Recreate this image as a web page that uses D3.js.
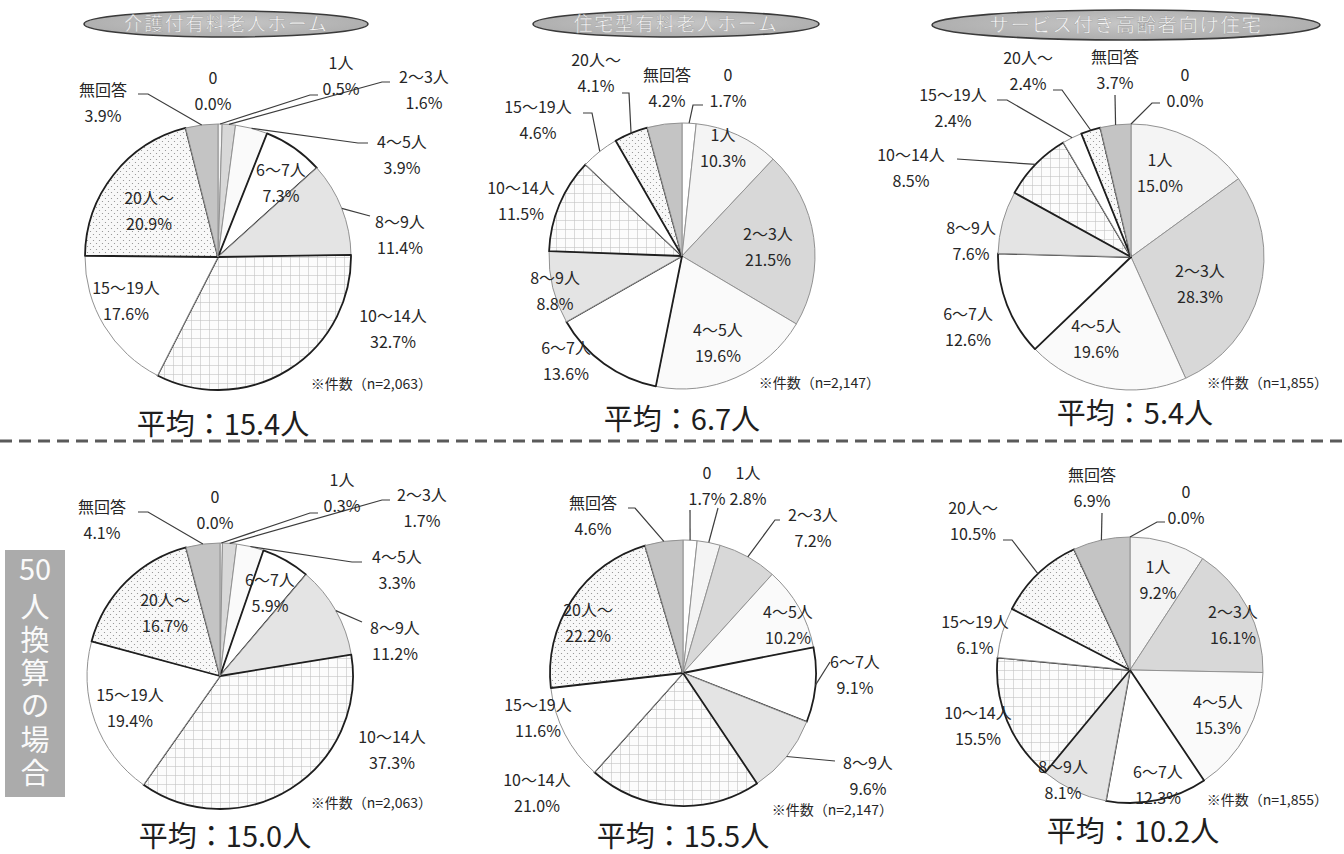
<!DOCTYPE html>
<html>
<head>
<meta charset="utf-8">
<script src="https://cdn.jsdelivr.net/npm/d3@7/dist/d3.min.js"></script>
<style>
  html, body { margin: 0; padding: 0; background: #fff; }
  svg { display: block; }
  text { font-family: "Noto Sans CJK JP", "Noto Sans", sans-serif; }
</style>
</head>
<body>
<svg id="chart" width="1344" height="854"></svg>
<script>
// ---- data ----
const categories = ['0', '1人', '2～3人', '4～5人', '6～7人', '8～9人', '10～14人', '15～19人', '20人～', '無回答'];
const facilityTypes = ['介護付有料老人ホーム', '住宅型有料老人ホーム', 'サービス付き高齢者向け住宅'];
const sampleSizes = ['2,063', '2,147', '1,855'];

// share of facilities (%) by number of staff
const sharesKaigo   = [0.0, 0.5, 1.6, 3.9, 7.3, 11.4, 32.7, 17.6, 20.9, 3.9];
const sharesJutaku  = [1.7, 10.3, 21.5, 19.6, 13.6, 8.8, 11.5, 4.6, 4.1, 4.2];
const sharesSakoju  = [0.0, 15.0, 28.3, 19.6, 12.6, 7.6, 8.5, 2.4, 2.4, 3.7];
// same, converted to a 50-resident basis
const sharesKaigo50  = [0.0, 0.3, 1.7, 3.3, 5.9, 11.2, 37.3, 19.4, 16.7, 4.1];
const sharesJutaku50 = [1.7, 2.8, 7.2, 10.2, 9.1, 9.6, 21.0, 11.6, 22.2, 4.6];
const sharesSakoju50 = [0.0, 9.2, 16.1, 15.3, 12.3, 8.1, 15.5, 6.1, 10.5, 6.9];

const averagesRaw = ['15.4', '6.7', '5.4'];
const averages50  = ['15.0', '15.5', '10.2'];

// ---- layout ----
const R = 133;
const panels = [
  { values: sharesKaigo,    cx: 218, cy: 257, n: 0, avg: averagesRaw[0], avgPos: [223, 425], nPos: [432, 384] },
  { values: sharesJutaku,   cx: 682, cy: 256, n: 1, avg: averagesRaw[1], avgPos: [682, 420], nPos: [880, 383] },
  { values: sharesSakoju,   cx: 1131, cy: 257, n: 2, avg: averagesRaw[2], avgPos: [1135, 414], nPos: [1328, 383] },
  { values: sharesKaigo50,  cx: 220, cy: 676, n: 0, avg: averages50[0], avgPos: [225, 837], nPos: [432, 803] },
  { values: sharesJutaku50, cx: 683, cy: 673, n: 1, avg: averages50[1], avgPos: [683, 837], nPos: [893, 810] },
  { values: sharesSakoju50, cx: 1130, cy: 670, n: 2, avg: averages50[2], avgPos: [1133, 832], nPos: [1328, 800] }
];

// label anchor (centre of first line) relative to pie centre, and leader-line bends
const labelLayouts = [
  { pos: [[-5,-179],[123,-194],[206,-180],[184,-115],[63,-87],[182,-35],[175,59],[-92,31],[-69,-59],[-115,-167]],
    lead: { 1: [[100,-162],[92,-162]], 2: [[172,-175],[164,-175]], 3: [[150,-114],[140,-114]], 5: [[152,-41]], 9: [[-80,-163],[-70,-163]] } },
  { pos: [[46,-181],[41,-121],[86,-22],[36,74],[-116,92],[-127,22],[-161,-68],[-144,-149],[-86,-196],[-15,-181]],
    lead: { 0: [[21,-151],[11,-151]], 7: [[-99,-143],[-90,-143]], 8: [[-60,-163],[-53,-163]] } },
  { pos: [[54,-182],[29,-97],[69,14],[-35,69],[-163,57],[-160,-29],[-220,-102],[-178,-162],[-103,-199],[-16,-200]],
    lead: { 0: [[29,-154],[21,-154]], 6: [[-174,-98]], 7: [[-134,-157],[-124,-157]], 8: [[-78,-167],[-69,-167]], 9: [[-16,-162]] } },
  { pos: [[-5,-179],[122,-196],[202,-181],[177,-119],[50,-96],[175,-48],[172,61],[-90,19],[-55,-76],[-118,-169]],
    lead: { 1: [[98,-163],[90,-163]], 2: [[170,-176],[162,-176]], 3: [[142,-114],[132,-114]], 5: [[142,-54]], 9: [[-82,-164],[-72,-164]] } },
  { pos: [[24,-200],[65,-200],[130,-158],[105,-61],[172,-11],[185,90],[-146,107],[-145,32],[-95,-63],[-90,-170]],
    lead: { 0: [[7,-163]], 1: [[35,-165]], 2: [[97,-153],[92,-153]], 4: [[147,-11]], 5: [[152,88]], 9: [[-55,-165],[-48,-165]] } },
  { pos: [[56,-178],[28,-103],[103,-58],[88,32],[28,102],[-67,97],[-152,43],[-155,-48],[-157,-162],[-38,-195]],
    lead: { 0: [[35,-148],[27,-148]], 8: [[-127,-130],[-118,-130]], 9: [[-28,-157]] } }
];

const svg = d3.select('#chart');
const defs = svg.append('defs');

// grid hatch for 10～14人
const grid = defs.append('pattern').attr('id', 'gridFill')
  .attr('patternUnits', 'userSpaceOnUse').attr('width', 9).attr('height', 9);
grid.append('rect').attr('width', 9).attr('height', 9).attr('fill', '#fcfcfc');
grid.append('path').attr('d', 'M0,0.5H9M0.5,0V9').attr('stroke', '#c2c2c2').attr('stroke-width', 0.6);

// dot stipple for 20人～
const dots = defs.append('pattern').attr('id', 'dotFill')
  .attr('patternUnits', 'userSpaceOnUse').attr('width', 6).attr('height', 6);
dots.append('rect').attr('width', 6).attr('height', 6).attr('fill', '#f8f8f8');
dots.append('circle').attr('cx', 1.5).attr('cy', 1.5).attr('r', 0.6).attr('fill', '#8a8a8a');
dots.append('circle').attr('cx', 4.5).attr('cy', 4.5).attr('r', 0.6).attr('fill', '#8a8a8a');

// header bubble shading
const grad = defs.append('radialGradient').attr('id', 'bubble').attr('cx', '50%').attr('cy', '45%').attr('r', '60%');
grad.append('stop').attr('offset', '0%').attr('stop-color', '#c6c6c6');
grad.append('stop').attr('offset', '100%').attr('stop-color', '#ababab');

const sliceFill = d3.scaleOrdinal()
  .domain(categories)
  .range(['#ffffff', '#f4f4f4', '#d8d8d8', '#fafafa', '#ffffff', '#e4e4e4', 'url(#gridFill)', '#ffffff', 'url(#dotFill)', '#c4c4c4']);
const darkOutline = new Set(['6～7人', '10～14人', '20人～']);

const pie = d3.pie().sort(null).value(d => d.v);
const arc = d3.arc().innerRadius(0).outerRadius(R);
const fmt = d3.format('.1f');
const textColor = '#262626';

panels.forEach((p, i) => {
  const g = svg.append('g').attr('transform', `translate(${p.cx},${p.cy})`);
  const arcs = pie(categories.map((c, k) => ({ c, v: p.values[k] })));

  g.selectAll('path.slice').data(arcs).join('path')
    .attr('class', 'slice')
    .attr('d', arc)
    .attr('fill', d => sliceFill(d.data.c))
    .attr('stroke', d => darkOutline.has(d.data.c) ? '#1e1e1e' : '#929292')
    .attr('stroke-width', d => darkOutline.has(d.data.c) ? 1.8 : 1)
    .attr('stroke-linejoin', 'round');

  const lay = labelLayouts[i];
  // leader lines
  arcs.forEach((d, k) => {
    const bends = lay.lead[k];
    if (!bends) return;
    const a = (d.startAngle + d.endAngle) / 2;
    const pts = bends.concat([[R * Math.sin(a), -R * Math.cos(a)]]);
    g.append('path')
      .attr('d', d3.line()(pts))
      .attr('fill', 'none')
      .attr('stroke', '#3c3c3c')
      .attr('stroke-width', 1.2);
  });

  // category + percentage labels
  arcs.forEach((d, k) => {
    const [dx, dy] = lay.pos[k];
    const t = g.append('text')
      .attr('text-anchor', 'middle')
      .attr('fill', textColor)
      .attr('font-size', 16);
    t.append('tspan').attr('x', dx).attr('y', dy).attr('dy', '0.36em').text(d.data.c);
    t.append('tspan').attr('x', dx).attr('y', dy + 26).attr('dy', '0.36em').text(fmt(d.data.v) + '%');
  });

  svg.append('text')
    .attr('x', p.nPos[0]).attr('y', p.nPos[1])
    .attr('text-anchor', 'end').attr('dy', '0.36em')
    .attr('font-size', 14).attr('fill', textColor)
    .text(`※件数（n=${sampleSizes[p.n]}）`);

  svg.append('text')
    .attr('x', p.avgPos[0]).attr('y', p.avgPos[1])
    .attr('text-anchor', 'middle').attr('dy', '0.36em')
    .attr('font-size', 29).attr('fill', '#1e1e1e')
    .text(`平均：${p.avg}人`);
});

// facility-type headers
const headers = [
  { cx: 226, cy: 24, rx: 142, ry: 13, fs: 19 },
  { cx: 676, cy: 24, rx: 143, ry: 13, fs: 19 },
  { cx: 1126, cy: 25, rx: 194, ry: 15, fs: 19.5 }
];
headers.forEach((h, i) => {
  svg.append('ellipse')
    .attr('cx', h.cx).attr('cy', h.cy).attr('rx', h.rx).attr('ry', h.ry)
    .attr('fill', 'url(#bubble)').attr('stroke', '#3a3a3a').attr('stroke-width', 1.6);
  svg.append('text')
    .attr('x', h.cx).attr('y', h.cy).attr('dy', '0.36em')
    .attr('text-anchor', 'middle')
    .attr('font-size', h.fs).attr('letter-spacing', 1.5)
    .attr('fill', '#f6f6f6').attr('stroke', '#9a9a9a').attr('stroke-width', 0.4)
    .text(facilityTypes[i]);
});

// separator between raw and 50-resident figures
svg.append('line')
  .attr('x1', 0).attr('x2', 1344).attr('y1', 441).attr('y2', 441)
  .attr('stroke', '#5a5a5a').attr('stroke-width', 3).attr('stroke-dasharray', '12 7');

// side tag for the converted row: "50" set horizontally, the rest stacked vertically
svg.append('rect').attr('x', 5).attr('y', 550).attr('width', 60).attr('height', 247).attr('fill', '#ababab');
svg.append('text')
  .attr('x', 35).attr('y', 570).attr('dy', '0.36em')
  .attr('text-anchor', 'middle')
  .attr('font-size', 29).attr('fill', '#fafafa')
  .text('50');
svg.append('text')
  .attr('x', 35).attr('y', 592)
  .attr('writing-mode', 'vertical-rl')
  .style('text-orientation', 'upright')
  .attr('letter-spacing', 4.3)
  .attr('font-size', 29).attr('fill', '#fafafa')
  .text('人換算の場合');
</script>
</body>
</html>
